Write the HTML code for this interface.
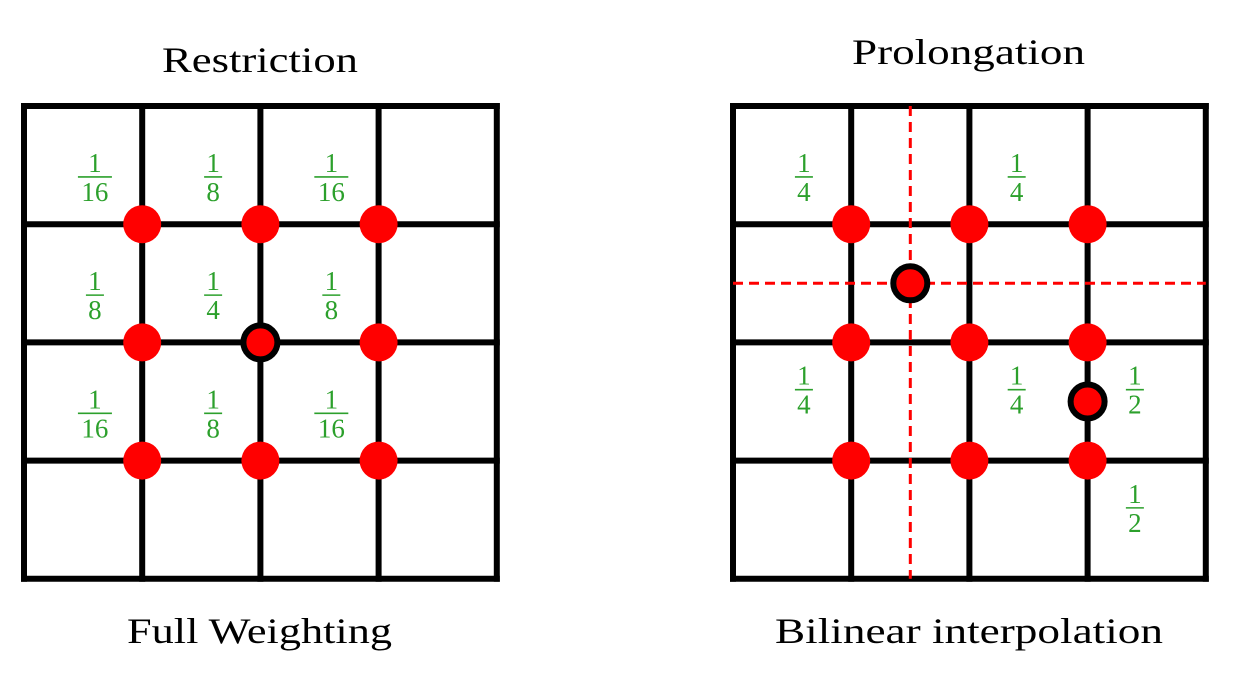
<!DOCTYPE html>
<html><head><meta charset="utf-8"><style>
html,body{margin:0;padding:0;background:#fff;width:1243px;height:686px;overflow:hidden}
text{font-family:"Liberation Serif",serif}
</style></head><body>
<svg id="c" width="1243" height="686" xmlns="http://www.w3.org/2000/svg">
<text x="162" y="72" font-size="36" textLength="196" lengthAdjust="spacingAndGlyphs">Restriction</text>
<text x="852" y="64" font-size="36" textLength="233" lengthAdjust="spacingAndGlyphs">Prolongation</text>
<text x="127" y="643" font-size="36" textLength="265" lengthAdjust="spacingAndGlyphs">Full Weighting</text>
<text x="775" y="643" font-size="36" textLength="388" lengthAdjust="spacingAndGlyphs">Bilinear interpolation</text>
</svg>
<script>
const NS="http://www.w3.org/2000/svg";
const svg=document.getElementById('c');
const gridOrigins=[[24,106],[733,106]];
const cell=118.2;
const leftWeights=[[0.6,0.6,"1","16"],[1.6,0.6,"1","8"],[2.6,0.6,"1","16"],[0.6,1.6,"1","8"],[1.6,1.6,"1","4"],[2.6,1.6,"1","8"],[0.6,2.6,"1","16"],[1.6,2.6,"1","8"],[2.6,2.6,"1","16"]];
const rightWeights=[[0.6,0.6,"1","4"],[2.4,0.6,"1","4"],[0.6,2.4,"1","4"],[2.4,2.4,"1","4"],[3.4,2.4,"1","2"],[3.4,3.4,"1","2"]];
const leftDots=[[1,1],[2,1],[3,1],[1,2],[3,2],[1,3],[2,3],[3,3]];
const leftOutlined=[[2,2]];
const rightDots=[[1,1],[2,1],[3,1],[1,2],[2,2],[3,2],[1,3],[2,3],[3,3]];
const rightOutlined=[[1.5,1.5],[3,2.5]];
const dashPos=1.5;
function px(p,c){return gridOrigins[p][0]+c*cell}
function py(p,r){return gridOrigins[p][1]+r*cell}
function mk(tag,attrs){const e=document.createElementNS(NS,tag);for(const k in attrs)e.setAttribute(k,attrs[k]);svg.appendChild(e);return e}
for(let p=0;p<2;p++){
  for(let i=0;i<=4;i++){
    const v=mk('line',{x1:px(p,i),y1:py(p,0)-3,x2:px(p,i),y2:py(p,4)+3,stroke:'#000','stroke-width':6});
    
    
    const h=mk('line',{x1:px(p,0)-3,y1:py(p,i),x2:px(p,4)+3,y2:py(p,i),stroke:'#000','stroke-width':6});
    
    
  }
}
const dv=mk('line',{x1:px(1,dashPos),y1:py(1,0),x2:px(1,dashPos),y2:py(1,4),stroke:'#f00','stroke-width':3,'stroke-dasharray':'10,6'});


const dh=mk('line',{x1:px(1,0),y1:py(1,dashPos),x2:px(1,4),y2:py(1,dashPos),stroke:'#f00','stroke-width':3,'stroke-dasharray':'10,6'});


function dots(p,list,outlined){
  list.forEach(d=>{const c=mk('circle',{cx:px(p,d[0]),cy:py(p,d[1]),r:19,fill:'#f00'});
    
    });
  outlined.forEach(d=>{const c=mk('circle',{cx:px(p,d[0]),cy:py(p,d[1]),r:17,fill:'#f00',stroke:'#000','stroke-width':6});
    
    });
}
dots(0,leftDots,leftOutlined);dots(1,rightDots,rightOutlined);
function weights(p,list){
  list.forEach(w=>{const x=px(p,w[0]),y=py(p,w[1]);
    const g=document.createElementNS(NS,'g');svg.appendChild(g);
    
    
    const n=document.createElementNS(NS,'text');n.setAttribute('x',x);n.setAttribute('y',y-5);n.setAttribute('text-anchor','middle');n.setAttribute('font-size','27');n.setAttribute('fill','#2ca02c');n.textContent=w[2];g.appendChild(n);
    const l=document.createElementNS(NS,'line');const hw=w[3].length>1?17:9;
    l.setAttribute('x1',x-hw);l.setAttribute('x2',x+hw);l.setAttribute('y1',y);l.setAttribute('y2',y);l.setAttribute('stroke','#2ca02c');l.setAttribute('stroke-width','1.6');g.appendChild(l);
    const d=document.createElementNS(NS,'text');d.setAttribute('x',x);d.setAttribute('y',y+24);d.setAttribute('text-anchor','middle');d.setAttribute('font-size','27');d.setAttribute('fill','#2ca02c');d.textContent=w[3];g.appendChild(d);
  });
}
weights(0,leftWeights);weights(1,rightWeights);
</script>
</body></html>
